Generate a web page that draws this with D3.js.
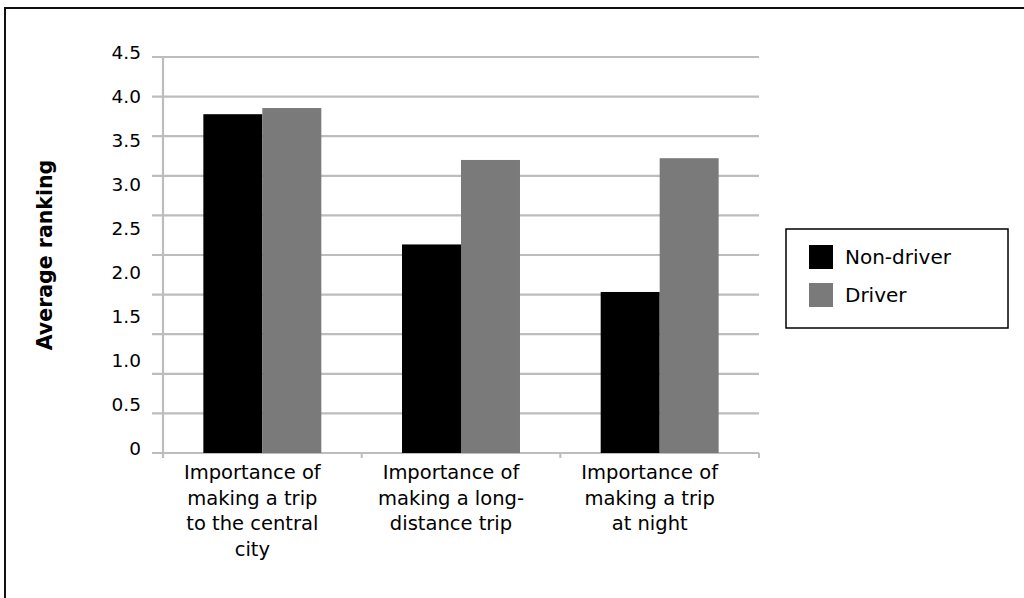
<!DOCTYPE html>
<html>
<head>
<meta charset="utf-8">
<script src="https://cdn.jsdelivr.net/npm/d3@7"></script>
<style>
  html, body { margin: 0; padding: 0; background: #fff; }
  svg { display: block; }
  text { font-family: "DejaVu Sans", Verdana, sans-serif; fill: #000; }
</style>
</head>
<body>
<svg id="chart" width="1024" height="598"></svg>
<script>
// Category labels (multi-line) and series
const categories = ["central", "long", "night"];
const categoryLines = [
  ["Importance of", "making a trip", "to the central", "city"],
  ["Importance of", "making a long-", "distance trip"],
  ["Importance of", "making a trip", "at night"]
];
const series = ["Non-driver", "Driver"];
const nonDriver = [3.85, 2.37, 1.83];
const driver = [3.92, 3.33, 3.35];
const yTicks = [0, 0.5, 1.0, 1.5, 2.0, 2.5, 3.0, 3.5, 4.0, 4.5];
const colors = ["#000000", "#7a7a7a"];

const svg = d3.select("#chart");

// Outer frame
svg.append("rect")
  .attr("x", 5).attr("y", 8)
  .attr("width", 1030).attr("height", 600)
  .attr("fill", "none").attr("stroke", "#111").attr("stroke-width", 2);

const plot = { left: 163, right: 759, top: 57, bottom: 453 };

const x0 = d3.scaleBand().domain(categories).range([plot.left, plot.right]).padding(0);
const x1 = d3.scaleBand().domain(series).range([0, x0.bandwidth()]).paddingInner(0).paddingOuter(0.684);
const y = d3.scaleLinear().domain([0, 4.5]).range([plot.bottom, plot.top]);

// Horizontal gridlines: plot area split into ten equal bands
const grid = d3.scaleLinear().domain([0, 10]).range([plot.bottom, plot.top]);
svg.append("g").selectAll("line").data(grid.ticks(10)).join("line")
  .attr("x1", plot.left - 11).attr("x2", plot.right)
  .attr("y1", d => grid(d)).attr("y2", d => grid(d))
  .attr("stroke", "#bdbdbd").attr("stroke-width", 2.2);

// Vertical axis line
svg.append("line")
  .attr("x1", plot.left).attr("x2", plot.left)
  .attr("y1", plot.top).attr("y2", plot.bottom + 5)
  .attr("stroke", "#bdbdbd").attr("stroke-width", 2.2);

// Category boundary ticks on the x axis
const boundaries = categories.map(c => x0(c)).concat([x0(categories[categories.length - 1]) + x0.bandwidth()]);
svg.append("g").selectAll("line").data(boundaries).join("line")
  .attr("x1", d => d).attr("x2", d => d)
  .attr("y1", plot.bottom).attr("y2", plot.bottom + 5)
  .attr("stroke", "#bdbdbd").attr("stroke-width", 2);

// Bars
const rows = categories.map((c, i) => ({ cat: c, values: [nonDriver[i], driver[i]] }));
const groups = svg.append("g").selectAll("g").data(rows).join("g")
  .attr("transform", d => `translate(${x0(d.cat)},0)`);
groups.selectAll("rect").data(d => d.values.map((v, j) => ({ key: series[j], v, j }))).join("rect")
  .attr("x", d => x1(d.key))
  .attr("width", x1.bandwidth())
  .attr("y", d => y(d.v))
  .attr("height", d => y(0) - y(d.v))
  .attr("fill", d => colors[d.j]);

// Y tick labels
svg.append("g").selectAll("text").data(yTicks).join("text")
  .attr("x", 141)
  .attr("y", d => y(d))
  .attr("dy", "0.35em")
  .attr("transform", "translate(0,-4)")
  .attr("text-anchor", "end")
  .style("font-size", "18.5px")
  .text(d => d === 0 ? "0" : d.toFixed(1));

// Y axis title
svg.append("text")
  .attr("transform", "translate(52,255) rotate(-90)")
  .attr("text-anchor", "middle")
  .style("font-size", "20.5px")
  .style("font-weight", "bold")
  .text("Average ranking");

// Category labels
const catLabels = svg.append("g").selectAll("text").data(categories).join("text")
  .attr("text-anchor", "middle")
  .style("font-size", "19.5px")
  .attr("transform", d => `translate(${x0(d) + x0.bandwidth() / 2 - 10},479)`);
catLabels.selectAll("tspan").data((d, i) => categoryLines[i]).join("tspan")
  .attr("x", 0)
  .attr("y", (d, i) => i * 25.7)
  .text(d => d);

// Legend
const legend = svg.append("g");
legend.append("rect")
  .attr("x", 786).attr("y", 229).attr("width", 222).attr("height", 99)
  .attr("fill", "#fff").attr("stroke", "#000").attr("stroke-width", 1.5);
const items = legend.selectAll("g").data(series).join("g")
  .attr("transform", (d, i) => `translate(809,${245 + i * 38})`);
items.append("rect").attr("width", 24).attr("height", 24).attr("fill", (d, i) => colors[i]);
items.append("text")
  .attr("x", 36).attr("y", 12).attr("dy", "0.35em")
  .style("font-size", "20px")
  .text(d => d);
</script>
</body>
</html>
